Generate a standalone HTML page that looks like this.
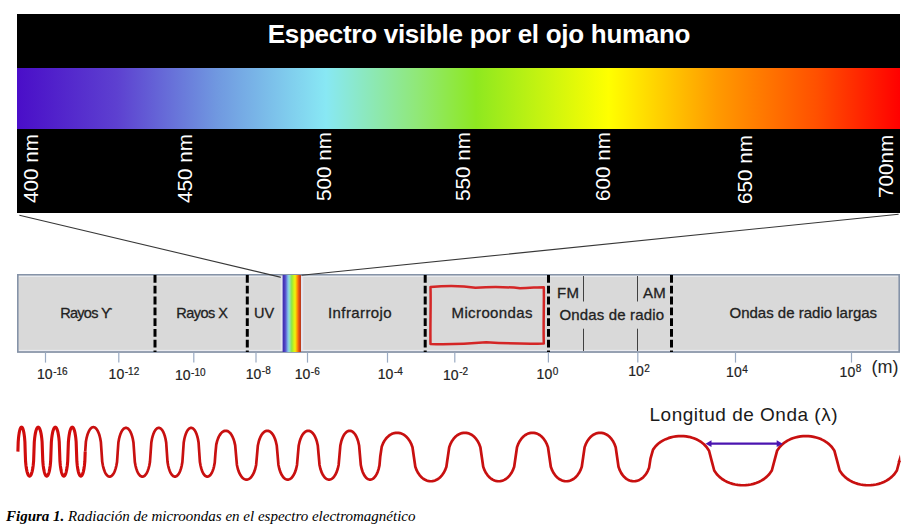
<!DOCTYPE html>
<html><head><meta charset="utf-8">
<style>
html,body{margin:0;padding:0;background:#fff;}
body{width:917px;height:526px;position:relative;overflow:hidden;font-family:"Liberation Sans",sans-serif;}
.abs{position:absolute;white-space:nowrap;}
#blk{left:17px;top:14px;width:883px;height:199px;background:#000;}
#grad{left:17px;top:68px;width:883px;height:61px;background:linear-gradient(to right,#4a0ec8 0%,#5d40d0 11.3%,#7098e0 22.6%,#88e8f4 35%,#90e878 45.3%,#8ee820 52%,#ffff00 67%,#ff9a00 79.3%,#ff5000 90.6%,#ff0000 100%);}
#title{left:0;width:958px;top:19px;text-align:center;color:#fff;font-weight:bold;font-size:26px;line-height:30px;letter-spacing:-0.28px;}
.nm{color:#fff;font-size:20.7px;line-height:20px;transform-origin:0 0;transform:rotate(-90deg);}
#band{left:17px;top:274px;width:883px;height:79px;background:#d9d9d9;}
.lbl{color:#222;line-height:18px;-webkit-text-stroke:0.3px #222;}
.tl{color:#222;font-size:14px;line-height:16px;-webkit-text-stroke:0.2px #222;}
.tl sup{font-size:10px;vertical-align:0;position:relative;top:-4.4px;margin-left:0.6px;}
#cap{left:6px;top:507px;font-family:"Liberation Serif",serif;font-style:italic;font-size:15px;line-height:18px;color:#000;}
</style></head><body>
<div id="blk" class="abs"></div>
<div id="grad" class="abs"></div>
<div id="title" class="abs">Espectro visible por el ojo humano</div>
<div class="abs nm" style="left:20.5px;top:203px;">400 nm</div>
<div class="abs nm" style="left:174.8px;top:203px;">450 nm</div>
<div class="abs nm" style="left:313.6px;top:201.3px;">500 nm</div>
<div class="abs nm" style="left:453.3px;top:201.3px;">550 nm</div>
<div class="abs nm" style="left:592.8px;top:201.3px;">600 nm</div>
<div class="abs nm" style="left:734.8px;top:203.5px;">650 nm</div>
<div class="abs nm" style="left:876.3px;top:197.8px;">700nm</div>
<div id="band" class="abs"></div>
<svg class="abs" style="left:0;top:0" width="917" height="526" viewBox="0 0 917 526">
  <rect x="17.8" y="274.8" width="881.4" height="77.2" fill="none" stroke="#8593a8" stroke-width="1.6"/>
  <line x1="19" y1="276.3" x2="898" y2="276.3" stroke="#eceef3" stroke-width="1"/>
  <line x1="19" y1="350.4" x2="898" y2="350.4" stroke="#eceef3" stroke-width="1"/>
  <line x1="19.4" y1="215.2" x2="282.3" y2="277.6" stroke="#383838" stroke-width="1.1"/>
  <line x1="898.6" y1="214.3" x2="301.5" y2="275.2" stroke="#383838" stroke-width="1.1"/>
  <defs><linearGradient id="rb" x1="0" x2="1" y1="0" y2="0">
    <stop offset="0" stop-color="#4030b0"/><stop offset="0.08" stop-color="#4535b8"/><stop offset="0.165" stop-color="#5a58d0"/><stop offset="0.28" stop-color="#80b8e8"/><stop offset="0.35" stop-color="#90e0d8"/><stop offset="0.5" stop-color="#90e840"/><stop offset="0.58" stop-color="#c0f020"/><stop offset="0.68" stop-color="#f0f010"/><stop offset="0.78" stop-color="#ffa000"/><stop offset="0.86" stop-color="#f06010"/><stop offset="0.94" stop-color="#c83c18"/><stop offset="1" stop-color="#b84020"/>
  </linearGradient></defs>
  <rect x="280.8" y="276" width="22.4" height="75" fill="#e4e4ee"/>
  <rect x="282.6" y="275" width="18.4" height="77" fill="url(#rb)"/>
  <g stroke="#000" stroke-width="3" stroke-dasharray="7.8 3">
    <line x1="155" y1="275" x2="155" y2="352"/>
    <line x1="247.3" y1="275" x2="247.3" y2="352"/>
    <line x1="425.2" y1="275" x2="425.2" y2="352"/>
    <line x1="548.5" y1="275" x2="548.5" y2="352"/>
    <line x1="671.5" y1="275" x2="671.5" y2="352"/>
  </g>
  <g stroke="#404040" stroke-width="1">
    <line x1="583.5" y1="276" x2="583.5" y2="301.5"/>
    <line x1="583.5" y1="328.7" x2="583.5" y2="351"/>
    <line x1="637.5" y1="276" x2="637.5" y2="301.5"/>
    <line x1="637.5" y1="328.7" x2="637.5" y2="351"/>
  </g>
  <path d="M430.5 287 C448 285.6 464 286 475.5 287.8 C490 286.8 505 286.8 520 288.2 C530 288 538 287.2 543.8 287.2 C544.2 305 543.2 325 543.8 343.5 C525 344.3 505 343.3 486.3 342.2 C470 343.6 450 344.6 430.5 344 C430.1 325 431 305 430.5 287 Z" fill="none" stroke="#d42626" stroke-width="2.5" stroke-linejoin="round"/>
  <g stroke="#9aaac2" stroke-width="1.2">
    <line x1="45.5" y1="352.5" x2="45.5" y2="362.6"/>
    <line x1="118.8" y1="352.5" x2="118.8" y2="362.6"/>
    <line x1="193.8" y1="352.5" x2="193.8" y2="362.6"/>
    <line x1="256" y1="352.5" x2="256" y2="362.6"/>
    <line x1="307.5" y1="352.5" x2="307.5" y2="362.6"/>
    <line x1="387.5" y1="352.5" x2="387.5" y2="362.6"/>
    <line x1="454.8" y1="352.5" x2="454.8" y2="362.6"/>
    <line x1="548.4" y1="352.5" x2="548.4" y2="362.6"/>
    <line x1="637.8" y1="352.5" x2="637.8" y2="362.6"/>
    <line x1="735.5" y1="352.5" x2="735.5" y2="362.6"/>
    <line x1="851.5" y1="352.5" x2="851.5" y2="362.6"/>
  </g>
  <path d="M17.90 451.65 L18.20 441.86 L18.51 438.11 L18.81 435.44 L19.12 433.39 L19.42 431.75 L19.73 430.43 L20.03 429.38 L20.33 428.55 L20.64 427.93 L20.94 427.49 L21.25 427.24 L21.55 427.15 L21.85 427.24 L22.16 427.49 L22.46 427.93 L22.77 428.55 L23.07 429.38 L23.38 430.43 L23.68 431.75 L23.98 433.39 L24.29 435.44 L24.59 438.11 L24.90 441.86 L25.20 451.65 L25.56 461.44 L25.93 465.19 L26.29 467.86 L26.66 469.91 L27.02 471.55 L27.39 472.87 L27.75 473.92 L28.12 474.75 L28.48 475.37 L28.85 475.81 L29.21 476.06 L29.58 476.15 L29.94 476.06 L30.30 475.81 L30.67 475.37 L31.03 474.75 L31.40 473.92 L31.76 472.87 L32.13 471.55 L32.49 469.91 L32.86 467.86 L33.22 465.19 L33.59 461.44 L33.95 451.65 L34.30 441.86 L34.66 438.11 L35.01 435.44 L35.37 433.39 L35.72 431.75 L36.08 430.43 L36.43 429.38 L36.78 428.55 L37.14 427.93 L37.49 427.49 L37.85 427.24 L38.20 427.15 L38.55 427.24 L38.91 427.49 L39.26 427.93 L39.62 428.55 L39.97 429.38 L40.33 430.43 L40.68 431.75 L41.03 433.39 L41.39 435.44 L41.74 438.11 L42.10 441.86 L42.45 451.65 L42.81 461.44 L43.16 465.19 L43.52 467.86 L43.88 469.91 L44.23 471.55 L44.59 472.87 L44.94 473.92 L45.30 474.75 L45.66 475.37 L46.01 475.81 L46.37 476.06 L46.73 476.15 L47.08 476.06 L47.44 475.81 L47.79 475.37 L48.15 474.75 L48.51 473.92 L48.86 472.87 L49.22 471.55 L49.58 469.91 L49.93 467.86 L50.29 465.19 L50.64 461.44 L51.00 451.65 L51.36 441.86 L51.72 438.11 L52.08 435.44 L52.43 433.39 L52.79 431.75 L53.15 430.43 L53.51 429.38 L53.87 428.55 L54.22 427.93 L54.58 427.49 L54.94 427.24 L55.30 427.15 L55.66 427.24 L56.02 427.49 L56.38 427.93 L56.73 428.55 L57.09 429.38 L57.45 430.43 L57.81 431.75 L58.17 433.39 L58.52 435.44 L58.88 438.11 L59.24 441.86 L59.60 451.65 L59.95 461.44 L60.30 465.19 L60.66 467.86 L61.01 469.91 L61.36 471.55 L61.71 472.87 L62.06 473.92 L62.42 474.75 L62.77 475.37 L63.12 475.81 L63.47 476.06 L63.82 476.15 L64.18 476.06 L64.53 475.81 L64.88 475.37 L65.23 474.75 L65.59 473.92 L65.94 472.87 L66.29 471.55 L66.64 469.91 L66.99 467.86 L67.35 465.19 L67.70 461.44 L68.05 451.65 L68.40 441.86 L68.75 438.11 L69.11 435.44 L69.46 433.39 L69.81 431.75 L70.16 430.43 L70.51 429.38 L70.87 428.55 L71.22 427.93 L71.57 427.49 L71.92 427.24 L72.28 427.15 L72.63 427.24 L72.98 427.49 L73.33 427.93 L73.68 428.55 L74.04 429.38 L74.39 430.43 L74.74 431.75 L75.09 433.39 L75.44 435.44 L75.80 438.11 L76.15 441.86 L76.50 451.65 L76.86 461.44 L77.22 465.19 L77.59 467.86 L77.95 469.91 L78.31 471.55 L78.67 472.87 L79.04 473.92 L79.40 474.75 L79.76 475.37 L80.12 475.81 L80.49 476.06 L80.85 476.15 L81.21 476.06 L81.58 475.81 L81.94 475.37 L82.30 474.75 L82.66 473.92 L83.03 472.87 L83.39 471.55 L83.75 469.91 L84.11 467.86 L84.48 465.19 L84.84 461.44 L85.20 451.65" fill="none" stroke="#d00c0c" stroke-width="3.1" stroke-linejoin="round"/>
  <path d="M85.20 451.65 L85.88 441.86 L86.56 438.12 L87.24 435.46 L87.92 433.40 L88.61 431.76 L89.29 430.44 L89.97 429.38 L90.65 428.56 L91.33 427.93 L92.01 427.49 L92.69 427.24 L93.38 427.15 L94.06 427.24 L94.74 427.49 L95.42 427.93 L96.10 428.56 L96.78 429.39 L97.46 430.46 L98.14 431.79 L98.83 433.44 L99.51 435.52 L100.19 438.21 L100.87 442.00 L101.55 451.90 L102.22 461.80 L102.90 465.59 L103.57 468.29 L104.24 470.36 L104.91 472.02 L105.59 473.35 L106.26 474.41 L106.93 475.24 L107.61 475.87 L108.28 476.31 L108.95 476.56 L109.62 476.65 L110.30 476.56 L110.97 476.31 L111.64 475.87 L112.32 475.25 L112.99 474.42 L113.66 473.37 L114.34 472.05 L115.01 470.42 L115.68 468.37 L116.35 465.72 L117.03 461.99 L117.70 452.25 L118.39 442.50 L119.07 438.76 L119.76 436.11 L120.44 434.06 L121.13 432.43 L121.81 431.12 L122.50 430.07 L123.18 429.25 L123.87 428.62 L124.55 428.19 L125.24 427.93 L125.92 427.85 L126.61 427.93 L127.30 428.19 L127.98 428.62 L128.67 429.25 L129.35 430.07 L130.04 431.12 L130.72 432.43 L131.41 434.06 L132.09 436.11 L132.78 438.76 L133.46 442.50 L134.15 452.25 L134.84 462.00 L135.53 465.74 L136.21 468.39 L136.90 470.44 L137.59 472.07 L138.28 473.38 L138.96 474.43 L139.65 475.25 L140.34 475.88 L141.03 476.31 L141.71 476.57 L142.40 476.65 L143.09 476.57 L143.78 476.31 L144.46 475.88 L145.15 475.25 L145.84 474.43 L146.53 473.38 L147.21 472.07 L147.90 470.44 L148.59 468.39 L149.28 465.74 L149.96 462.00 L150.65 452.25 L151.33 442.50 L152.00 438.76 L152.68 436.11 L153.35 434.06 L154.03 432.43 L154.70 431.12 L155.38 430.07 L156.05 429.25 L156.73 428.62 L157.40 428.19 L158.08 427.93 L158.75 427.85 L159.43 427.93 L160.10 428.19 L160.78 428.62 L161.45 429.25 L162.13 430.07 L162.80 431.12 L163.48 432.43 L164.15 434.06 L164.83 436.11 L165.50 438.76 L166.18 442.50 L166.85 452.25 L167.53 462.00 L168.20 465.74 L168.88 468.39 L169.55 470.44 L170.23 472.07 L170.90 473.38 L171.58 474.43 L172.25 475.25 L172.93 475.88 L173.60 476.31 L174.28 476.57 L174.95 476.65 L175.63 476.57 L176.30 476.31 L176.98 475.88 L177.65 475.25 L178.33 474.43 L179.00 473.38 L179.68 472.07 L180.35 470.44 L181.03 468.39 L181.70 465.74 L182.38 462.00 L183.05 452.25 L183.73 442.50 L184.40 438.76 L185.08 436.11 L185.75 434.06 L186.43 432.43 L187.10 431.12 L187.78 430.07 L188.45 429.25 L189.12 428.62 L189.80 428.19 L190.47 427.93 L191.15 427.85 L191.83 427.93 L192.50 428.19 L193.18 428.62 L193.85 429.25 L194.53 430.07 L195.20 431.12 L195.88 432.43 L196.55 434.06 L197.22 436.11 L197.90 438.76 L198.57 442.50 L199.25 452.25 L199.92 462.04 L200.60 465.79 L201.27 468.45 L201.94 470.50 L202.61 472.13 L203.29 473.43 L203.96 474.47 L204.63 475.28 L205.31 475.89 L205.98 476.32 L206.65 476.57 L207.32 476.65 L208.00 476.57 L208.67 476.32 L209.34 475.90 L210.02 475.31 L210.69 474.52 L211.36 473.53 L212.04 472.28 L212.71 470.74 L213.38 468.82 L214.05 466.33 L214.73 462.84 L215.40 453.70 L216.26 444.57 L217.12 441.07 L217.98 438.58 L218.84 436.66 L219.70 435.12 L220.56 433.87 L221.42 432.88 L222.28 432.09 L223.14 431.50 L224.00 431.08 L224.86 430.83 L225.73 430.75 L226.59 430.83 L227.45 431.08 L228.31 431.51 L229.17 432.12 L230.03 432.93 L230.89 433.98 L231.75 435.28 L232.61 436.91 L233.47 438.96 L234.33 441.63 L235.19 445.39 L236.05 455.20 L236.92 464.97 L237.80 468.72 L238.67 471.37 L239.54 473.42 L240.41 475.06 L241.29 476.37 L242.16 477.43 L243.03 478.25 L243.91 478.87 L244.78 479.31 L245.65 479.56 L246.53 479.65 L247.40 479.56 L248.27 479.31 L249.14 478.87 L250.02 478.25 L250.89 477.43 L251.76 476.37 L252.64 475.06 L253.51 473.42 L254.38 471.37 L255.25 468.72 L256.13 464.97 L257.00 455.20 L257.86 445.43 L258.72 441.68 L259.57 439.03 L260.43 436.98 L261.29 435.34 L262.15 434.03 L263.01 432.97 L263.87 432.15 L264.73 431.53 L265.58 431.09 L266.44 430.84 L267.30 430.75 L268.16 430.84 L269.02 431.09 L269.88 431.53 L270.73 432.15 L271.59 432.97 L272.45 434.03 L273.31 435.34 L274.17 436.98 L275.03 439.03 L275.88 441.68 L276.74 445.43 L277.60 455.20 L278.44 464.97 L279.29 468.72 L280.13 471.37 L280.98 473.42 L281.82 475.06 L282.66 476.37 L283.51 477.43 L284.35 478.25 L285.19 478.87 L286.04 479.31 L286.88 479.56 L287.73 479.65 L288.57 479.56 L289.41 479.31 L290.26 478.87 L291.10 478.25 L291.94 477.43 L292.79 476.37 L293.63 475.06 L294.48 473.42 L295.32 471.37 L296.16 468.72 L297.01 464.97 L297.85 455.20 L298.72 445.43 L299.58 441.68 L300.45 439.03 L301.32 436.98 L302.18 435.34 L303.05 434.03 L303.92 432.97 L304.78 432.15 L305.65 431.53 L306.52 431.09 L307.38 430.84 L308.25 430.75 L309.12 430.84 L309.98 431.09 L310.85 431.53 L311.72 432.15 L312.58 432.97 L313.45 434.03 L314.32 435.34 L315.18 436.98 L316.05 439.03 L316.92 441.68 L317.78 445.43 L318.65 455.20 L319.52 464.97 L320.39 468.72 L321.26 471.37 L322.12 473.42 L322.99 475.06 L323.86 476.37 L324.73 477.43 L325.60 478.25 L326.47 478.87 L327.34 479.31 L328.21 479.56 L329.07 479.65 L329.94 479.56 L330.81 479.31 L331.68 478.87 L332.55 478.25 L333.42 477.43 L334.29 476.37 L335.16 475.06 L336.02 473.42 L336.89 471.37 L337.76 468.72 L338.63 464.97 L339.50 455.20 L340.35 445.43 L341.20 441.68 L342.06 439.03 L342.91 436.98 L343.76 435.34 L344.61 434.03 L345.46 432.97 L346.32 432.15 L347.17 431.53 L348.02 431.09 L348.87 430.84 L349.73 430.75 L350.58 430.84 L351.43 431.09 L352.28 431.53 L353.13 432.15 L353.99 432.97 L354.84 434.03 L355.69 435.34 L356.54 436.98 L357.39 439.03 L358.25 441.68 L359.10 445.43 L359.95 455.20 L360.80 465.00 L361.65 468.75 L362.49 471.41 L363.34 473.47 L364.19 475.10 L365.04 476.41 L365.89 477.45 L366.73 478.27 L367.58 478.89 L368.43 479.31 L369.28 479.57 L370.12 479.65 L370.97 479.57 L371.82 479.32 L372.67 478.89 L373.52 478.29 L374.36 477.49 L375.21 476.47 L376.06 475.21 L376.91 473.64 L377.76 471.67 L378.60 469.13 L379.45 465.55 L380.30 456.20 L381.70 446.85 L383.10 443.27 L384.50 440.72 L385.90 438.76 L387.30 437.18 L388.70 435.92 L390.10 434.90 L391.50 434.11 L392.90 433.50 L394.30 433.08 L395.70 432.83 L397.10 432.75 L398.50 432.83 L399.90 433.08 L401.30 433.51 L402.70 434.12 L404.10 434.93 L405.50 435.97 L406.90 437.27 L408.30 438.89 L409.70 440.93 L411.10 443.57 L412.50 447.29 L413.90 457.00 L415.31 466.69 L416.72 470.40 L418.14 473.04 L419.55 475.07 L420.96 476.70 L422.38 478.00 L423.79 479.04 L425.20 479.86 L426.61 480.48 L428.02 480.91 L429.44 481.17 L430.85 481.25 L432.26 481.17 L433.67 480.91 L435.09 480.48 L436.50 479.86 L437.91 479.04 L439.32 478.00 L440.74 476.70 L442.15 475.07 L443.56 473.04 L444.97 470.40 L446.39 466.69 L447.80 457.00 L449.22 447.31 L450.63 443.60 L452.05 440.96 L453.47 438.93 L454.88 437.30 L456.30 436.00 L457.72 434.96 L459.13 434.14 L460.55 433.52 L461.97 433.09 L463.38 432.83 L464.80 432.75 L466.22 432.83 L467.63 433.09 L469.05 433.52 L470.47 434.14 L471.88 434.96 L473.30 436.00 L474.72 437.30 L476.13 438.93 L477.55 440.96 L478.97 443.60 L480.38 447.31 L481.80 457.00 L483.21 466.69 L484.62 470.40 L486.02 473.04 L487.43 475.07 L488.84 476.70 L490.25 478.00 L491.66 479.04 L493.07 479.86 L494.47 480.48 L495.88 480.91 L497.29 481.17 L498.70 481.25 L500.11 481.17 L501.52 480.91 L502.93 480.48 L504.33 479.86 L505.74 479.04 L507.15 478.00 L508.56 476.70 L509.97 475.07 L511.38 473.04 L512.78 470.40 L514.19 466.69 L515.60 457.00 L517.01 447.31 L518.42 443.60 L519.83 440.96 L521.23 438.93 L522.64 437.30 L524.05 436.00 L525.46 434.96 L526.87 434.14 L528.27 433.52 L529.68 433.09 L531.09 432.83 L532.50 432.75 L533.91 432.83 L535.32 433.09 L536.73 433.52 L538.13 434.14 L539.54 434.96 L540.95 436.00 L542.36 437.30 L543.77 438.93 L545.17 440.96 L546.58 443.60 L547.99 447.31 L549.40 457.00 L550.81 466.69 L552.22 470.40 L553.62 473.04 L555.03 475.07 L556.44 476.70 L557.85 478.00 L559.26 479.04 L560.67 479.86 L562.08 480.48 L563.48 480.91 L564.89 481.17 L566.30 481.25 L567.71 481.17 L569.12 480.91 L570.52 480.48 L571.93 479.86 L573.34 479.04 L574.75 478.00 L576.16 476.70 L577.57 475.07 L578.98 473.04 L580.38 470.40 L581.79 466.69 L583.20 457.00 L584.61 447.31 L586.03 443.60 L587.44 440.96 L588.85 438.93 L590.26 437.30 L591.68 436.00 L593.09 434.96 L594.50 434.14 L595.91 433.52 L597.33 433.09 L598.74 432.83 L600.15 432.75 L601.56 432.83 L602.98 433.09 L604.39 433.52 L605.80 434.14 L607.21 434.96 L608.62 436.00 L610.04 437.30 L611.45 438.93 L612.86 440.96 L614.27 443.60 L615.69 447.31 L617.10 457.00 L618.49 466.73 L619.88 470.47 L621.27 473.11 L622.67 475.14 L624.06 476.76 L625.45 478.06 L626.84 479.09 L628.23 479.89 L629.62 480.50 L631.02 480.92 L632.41 481.17 L633.80 481.25 L635.19 481.17 L636.58 480.92 L637.98 480.51 L639.37 479.93 L640.76 479.15 L642.15 478.17 L643.54 476.94 L644.93 475.43 L646.33 473.53 L647.72 471.08 L649.11 467.64 L650.50 458.65 L653.05 449.67 L655.59 446.23 L658.14 443.79 L660.68 441.89 L663.23 440.37 L665.77 439.14 L668.32 438.16 L670.87 437.38 L673.41 436.79 L675.96 436.38 L678.50 436.13 L681.05 436.05 L683.60 436.13 L686.14 436.38 L688.69 436.81 L691.23 437.42 L693.78 438.23 L696.33 439.28 L698.87 440.59 L701.42 442.23 L703.96 444.29 L706.51 446.98 L709.05 450.77 L711.60 460.65 L714.22 470.48 L716.84 474.25 L719.46 476.92 L722.08 478.99 L724.69 480.63 L727.31 481.95 L729.93 483.01 L732.55 483.84 L735.17 484.47 L737.79 484.91 L740.41 485.16 L743.03 485.25 L745.64 485.16 L748.26 484.91 L750.88 484.47 L753.50 483.84 L756.12 483.01 L758.74 481.95 L761.36 480.63 L763.98 478.99 L766.59 476.92 L769.21 474.25 L771.83 470.48 L774.45 460.65 L777.06 450.82 L779.67 447.05 L782.28 444.38 L784.88 442.31 L787.49 440.67 L790.10 439.35 L792.71 438.29 L795.32 437.46 L797.92 436.83 L800.53 436.39 L803.14 436.14 L805.75 436.05 L808.36 436.14 L810.97 436.39 L813.58 436.83 L816.18 437.46 L818.79 438.29 L821.40 439.35 L824.01 440.67 L826.62 442.31 L829.22 444.38 L831.83 447.05 L834.44 450.82 L837.05 460.65 L839.65 470.48 L842.25 474.25 L844.86 476.92 L847.46 478.99 L850.06 480.63 L852.66 481.95 L855.26 483.01 L857.87 483.84 L860.47 484.47 L863.07 484.91 L865.67 485.16 L868.27 485.25 L870.88 485.16 L873.48 484.91 L876.08 484.47 L878.68 483.84 L881.29 483.01 L883.89 481.95 L886.49 480.63 L889.09 478.99 L891.69 476.92 L894.30 474.25 L896.90 470.48 L899.50 460.65" fill="none" stroke="#c81010" stroke-width="2.7" stroke-linejoin="round"/>
  <path d="M897.6 462 L900.6 462 L899.9 454.5 Z" fill="#c81010"/>
  <line x1="709" y1="443.7" x2="779" y2="443.7" stroke="#4b14b0" stroke-width="2.2"/>
  <path d="M705.5 443.7 L711.5 440.3 L711.5 447.1 Z" fill="#4b14b0"/>
  <path d="M782.7 443.7 L776.7 440.3 L776.7 447.1 Z" fill="#4b14b0"/>
</svg>
<div class="abs lbl" style="left:60.3px;top:304px;font-size:14.5px;letter-spacing:-0.75px;">Rayos &#x3D2;</div>
<div class="abs lbl" style="left:176.3px;top:304px;font-size:14.5px;letter-spacing:-0.55px;">Rayos X</div>
<div class="abs lbl" style="left:254px;top:304px;font-size:14.5px;letter-spacing:0px;">UV</div>
<div class="abs lbl" style="left:328px;top:303.8px;font-size:15px;letter-spacing:0.4px;">Infrarrojo</div>
<div class="abs lbl" style="left:451.5px;top:303.8px;font-size:15px;letter-spacing:0.39px;">Microondas</div>
<div class="abs lbl" style="left:557px;top:284px;font-size:15px;letter-spacing:0.35px;">FM</div>
<div class="abs lbl" style="left:643px;top:284px;font-size:15px;letter-spacing:0.3px;">AM</div>
<div class="abs lbl" style="left:559.5px;top:306px;font-size:15px;letter-spacing:0.15px;">Ondas de radio</div>
<div class="abs lbl" style="left:729.5px;top:303.8px;font-size:15px;letter-spacing:0.0px;">Ondas de radio largas</div>
<div class="abs tl" style="left:37.0px;top:366px;">10<sup>-16</sup></div>
<div class="abs tl" style="left:108.6px;top:366px;">10<sup>-12</sup></div>
<div class="abs tl" style="left:174.9px;top:367px;">10<sup>-10</sup></div>
<div class="abs tl" style="left:245.7px;top:365.5px;">10<sup>-8</sup></div>
<div class="abs tl" style="left:294.70000000000005px;top:366px;">10<sup>-6</sup></div>
<div class="abs tl" style="left:377.8px;top:366px;">10<sup>-4</sup></div>
<div class="abs tl" style="left:443.0px;top:366.5px;">10<sup>-2</sup></div>
<div class="abs tl" style="left:536.6px;top:366px;">10<sup>0</sup></div>
<div class="abs tl" style="left:628.2px;top:363px;">10<sup>2</sup></div>
<div class="abs tl" style="left:726.1px;top:364px;">10<sup>4</sup></div>
<div class="abs tl" style="left:839.6px;top:363.5px;">10<sup>8</sup></div>
<div class="abs" style="left:871.5px;top:356.5px;font-size:18px;line-height:20px;color:#262626;">(m)</div>
<div class="abs" style="left:649.5px;top:404.4px;font-size:19px;line-height:22px;letter-spacing:0.5px;color:#1a1a1a;">Longitud de Onda (&#955;)</div>
<div id="cap" class="abs"><b>Figura 1.</b> Radiación de microondas en el espectro electromagnético</div>
</body></html>
